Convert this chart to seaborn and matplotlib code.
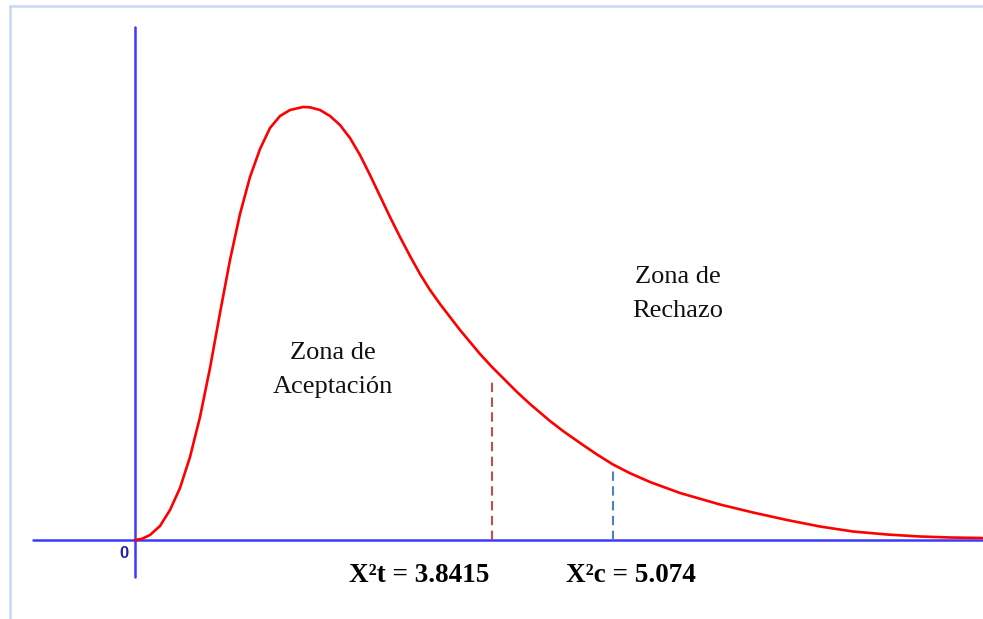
import matplotlib
matplotlib.use("Agg")
import matplotlib.pyplot as plt
import seaborn as sns
import pandas as pd
from matplotlib.lines import Line2D

# --- Datos (unidades: 1 = 100 px, origen en el 0 del eje) ---
curva_x = [0.00, 0.07, 0.15, 0.25, 0.35, 0.45, 0.55, 0.65, 0.75, 0.85, 0.95,
           1.05, 1.15, 1.25, 1.35, 1.45, 1.55, 1.68, 1.75, 1.85, 1.95, 2.05,
           2.15, 2.25, 2.35, 2.45, 2.55, 2.65, 2.75, 2.85, 2.95, 3.05, 3.15,
           3.25, 3.35, 3.45, 3.57, 3.65, 3.82, 3.95, 4.15, 4.28, 4.48, 4.62,
           4.78, 4.95, 5.15, 5.45, 5.85, 6.18, 6.52, 6.85, 7.18, 7.52, 7.85,
           8.15, 8.47]
curva_y = [0.00, 0.012, 0.05, 0.14, 0.30, 0.52, 0.83, 1.23, 1.72, 2.27, 2.80,
           3.26, 3.63, 3.91, 4.12, 4.24, 4.30, 4.33, 4.327, 4.30, 4.24, 4.15,
           4.02, 3.85, 3.65, 3.44, 3.23, 3.03, 2.84, 2.66, 2.50, 2.36, 2.23,
           2.10, 1.98, 1.86, 1.73, 1.65, 1.48, 1.36, 1.19, 1.09, 0.95, 0.855,
           0.755, 0.668, 0.58, 0.47, 0.355, 0.275, 0.20, 0.135, 0.085, 0.055,
           0.035, 0.025, 0.02]

# lineas criticas: posicion y altura
critico_x = [3.57, 4.78]
critico_alto = [1.60, 0.72]
critico_color = ["#c0504d", "#4f81bd"]
critico_texto = ["X²t = 3.8415", "X²c = 5.074"]
texto_x = [2.845, 4.955]

zonas = ["Zona de\nAceptación", "Zona de\nRechazo"]
zonas_x = [1.98, 5.43]
zonas_y = [1.70, 2.46]

sns.set_theme(style="white")

fig = plt.figure(figsize=(9.83, 6.19), dpi=100)
ax = fig.add_axes([0, 0, 1, 1])
ax.set_xlim(-1.35, 8.48)
ax.set_ylim(-0.79, 5.40)
ax.axis("off")

# ejes azules
azul = "#3a3aff"
ax.plot([-1.02, 8.48], [0, 0], color=azul, lw=1.8, zorder=1)
ax.plot([0, 0], [-0.37, 5.13], color=azul, lw=1.8, zorder=1)

# curva chi-cuadrado
df = pd.DataFrame({"x": curva_x, "y": curva_y})
sns.lineplot(data=df, x="x", y="y", sort=False, estimator=None,
             color="#ff0000", lw=1.9, ax=ax, zorder=3,
             solid_joinstyle="round", solid_capstyle="round")

# lineas discontinuas y etiquetas
for xc, h, c, t, tx in zip(critico_x, critico_alto, critico_color, critico_texto, texto_x):
    ax.plot([xc, xc], [0, h], color=c, lw=1.5, linestyle=(0, (4.5, 2.6)), zorder=2)
    ax.text(tx, -0.36, t, ha="center", va="center", fontsize=19.5,
            fontweight="bold", family="Liberation Serif", color="black")

for z, zx, zy in zip(zonas, zonas_x, zonas_y):
    ax.text(zx, zy, z, ha="center", va="center", fontsize=19, linespacing=1.75,
            family="Liberation Serif", color="#111111")

ax.text(-0.11, -0.13, "0", ha="center", va="center", fontsize=12,
        fontweight="bold", family="Liberation Sans", color="#1f1fa6")

# marco celeste (solo arriba e izquierda)
borde = "#c6d9f1"
fig.add_artist(Line2D([10 / 983, 1], [1 - 5.5 / 619, 1 - 5.5 / 619],
                      transform=fig.transFigure, color=borde, lw=1.8))
fig.add_artist(Line2D([10 / 983, 10 / 983], [0, 1 - 5.5 / 619],
                      transform=fig.transFigure, color=borde, lw=1.8))

plt.savefig("out.png", dpi=100)
